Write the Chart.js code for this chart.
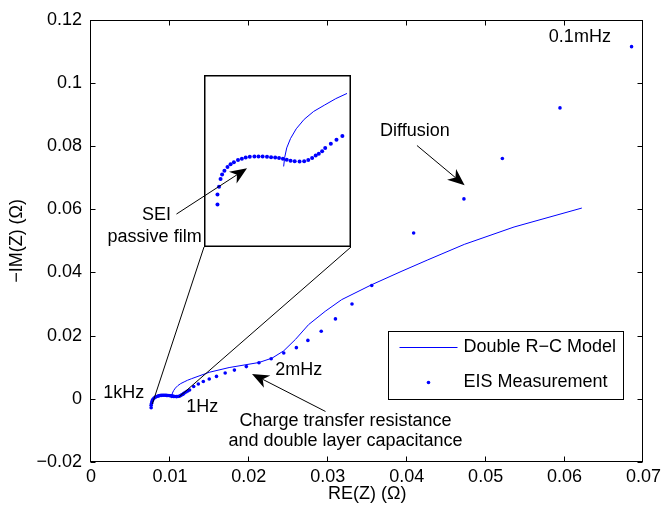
<!DOCTYPE html>
<html>
<head>
<meta charset="utf-8">
<script src="https://cdn.jsdelivr.net/npm/chart.js@4.4.1/dist/chart.umd.min.js"></script>
<style>
  html, body { margin: 0; padding: 0; background: #fff; }
  #wrap { position: relative; width: 665px; height: 511px; }
  #main { position: absolute; left: 0; top: 0; z-index: 1; }
  #insetBox { position: absolute; background: #fff; z-index: 0; }
</style>
</head>
<body>
<div id="wrap">
  <div id="insetBox"><canvas id="inset"></canvas></div>
  <canvas id="main" width="665" height="511"></canvas>
</div>
<script>
const measRe = [0.00762, 0.00762, 0.00768, 0.00774, 0.00780, 0.00789, 0.00801, 0.00813, 0.00826, 0.00842,
  0.00857, 0.00872, 0.00888, 0.00906, 0.00922, 0.00938, 0.00955, 0.00971, 0.00987, 0.01002,
  0.01017, 0.01032, 0.01047, 0.01063, 0.01082, 0.01100, 0.01116, 0.01131, 0.01145, 0.01157,
  0.01170, 0.01182, 0.01204, 0.01226, 0.01249,
  0.01301, 0.01360, 0.01423, 0.01498, 0.01590, 0.01700, 0.01817, 0.01968, 0.02128, 0.02283,
  0.02442, 0.02602, 0.02748, 0.02917, 0.03097, 0.03307, 0.03557, 0.04088, 0.04725, 0.05212,
  0.05942, 0.06849];
const measIm = [-0.00284, -0.00200, -0.00137, -0.00074, -0.00037, -0.00006, 0.00026, 0.00049, 0.00065, 0.00083,
  0.00093, 0.00104, 0.00109, 0.00112, 0.00112, 0.00112, 0.00109, 0.00106, 0.00104, 0.00099,
  0.00093, 0.00085, 0.00077, 0.00073, 0.00070, 0.00073, 0.00083, 0.00099, 0.00120, 0.00135,
  0.00156, 0.00183, 0.00216, 0.00250, 0.00281,
  0.0039, 0.0047, 0.0055, 0.0063, 0.0071, 0.0082, 0.0091, 0.0102, 0.0114, 0.0127,
  0.0145, 0.0162, 0.0185, 0.0214, 0.0253, 0.0300, 0.0359, 0.0525, 0.0633, 0.0761,
  0.0921, 0.1115];

// Double R-C model curve
const modelRe = [0.01020, 0.01024, 0.01032, 0.01047, 0.01069, 0.01100, 0.01137, 0.01180, 0.01223, 0.01271,
  0.01498, 0.01750, 0.02128, 0.02295, 0.02442, 0.02590, 0.02757, 0.02967, 0.03176, 0.03554,
  0.03928, 0.04268, 0.04730, 0.05360, 0.06219];
const modelIm = [0.00030, 0.00104, 0.00183, 0.00261, 0.00340, 0.00418, 0.00483, 0.00536, 0.00588, 0.00635,
  0.0084, 0.0099, 0.0115, 0.0129, 0.0152, 0.0188, 0.0235, 0.0277, 0.0314, 0.0361,
  0.0403, 0.0440, 0.0489, 0.0544, 0.0604];

const xTicks = [0, 0.01, 0.02, 0.03, 0.04, 0.05, 0.06, 0.07];
const yTicks = [-0.02, 0, 0.02, 0.04, 0.06, 0.08, 0.1, 0.12];

const seriesNames = ['Double R\u2212C Model', 'EIS Measurement'];

// text notes and arrows, placed in data units
const notes = [
  { text: '0.1mHz', x: 0.06194, y: 0.1144 },
  { text: 'Diffusion', x: 0.04104, y: 0.0849 },
  { text: 'SEI', x: 0.00830, y: 0.0582 },
  { text: 'passive film', x: 0.00806, y: 0.0513 },
  { text: '1kHz', x: 0.00415, y: 0.0017 },
  { text: '1Hz', x: 0.01410, y: -0.0027 },
  { text: '2mHz', x: 0.02631, y: 0.0092 },
  { text: 'Charge transfer resistance', x: 0.03225, y: -0.0071 },
  { text: 'and double layer capacitance', x: 0.03225, y: -0.0134 }
];
const arrows = [
  { from: [0.01083, 0.0585], to: [0.01977, 0.0730] },
  { from: [0.04130, 0.0802], to: [0.04734, 0.0676] },
  { from: [0.02971, -0.0040], to: [0.02040, 0.0079] }
];

// inset: zoom on the SEI semicircle
const insetRange = { x: [0.00725, 0.01267], y: [-0.0060, 0.0075] };
const insetBox = { left: 204, top: 75, width: 147, height: 172 };
const insetLinks = [[0.00777, -0.0016], [0.0112, 0.0007]];

const FONT = '"Liberation Sans", Arial, sans-serif';
const FS = 18;
const blue = '#0000ff';

const toPts = (xs, ys) => xs.map((x, i) => ({ x: x, y: ys[i] }));
const fmt = v => {
  const s = String(+v.toFixed(2));
  return v < 0 ? '\u2212' + s.slice(1) : s;
};

function datasets(r) {
  return [
    { label: seriesNames[0], data: toPts(modelRe, modelIm), showLine: true, borderColor: blue,
      borderWidth: 1, pointRadius: 0, tension: 0 },
    { label: seriesNames[1], data: toPts(measRe, measIm), showLine: false, pointRadius: r,
      pointBackgroundColor: blue, pointBorderWidth: 0, borderColor: blue }
  ];
}

function drawArrow(ctx, x1, y1, x2, y2) {
  const a = Math.atan2(y2 - y1, x2 - x1);
  const L = 17, W = 7, N = 5;
  const c = Math.cos(a), s = Math.sin(a);
  ctx.beginPath();
  ctx.moveTo(x1, y1);
  ctx.lineTo(x2 - (L - N) * c, y2 - (L - N) * s);
  ctx.stroke();
  ctx.beginPath();
  ctx.moveTo(x2, y2);
  ctx.lineTo(x2 - L * c - W * s, y2 - L * s + W * c);
  ctx.lineTo(x2 - (L - N) * c, y2 - (L - N) * s);
  ctx.lineTo(x2 - L * c + W * s, y2 - L * s - W * c);
  ctx.closePath();
  ctx.fill();
}

const decor = {
  id: 'decor',
  afterDraw(chart) {
    const { ctx, chartArea: a, scales: { x, y } } = chart;
    ctx.save();
    ctx.strokeStyle = '#000';
    ctx.fillStyle = '#000';
    ctx.lineWidth = 1;

    // lines from inset box to the zoomed region
    const bl = [insetBox.left, insetBox.top + insetBox.height];
    const br = [insetBox.left + insetBox.width, insetBox.top + insetBox.height];
    [[bl, insetLinks[0]], [br, insetLinks[1]]].forEach(([c, p]) => {
      ctx.beginPath();
      ctx.moveTo(c[0], c[1]);
      ctx.lineTo(x.getPixelForValue(p[0]), y.getPixelForValue(p[1]));
      ctx.stroke();
    });

    // frame with inward ticks on all sides
    const L = Math.round(a.left) - 0.5, R = Math.round(a.right) - 0.5;
    const T = Math.round(a.top) + 0.5, B = Math.round(a.bottom) - 0.5;
    ctx.strokeRect(L, T, R - L, B - T);
    ctx.beginPath();
    xTicks.forEach(v => {
      const px = Math.round(x.getPixelForValue(v)) - 0.5;
      ctx.moveTo(px, B); ctx.lineTo(px, B - 5);
      ctx.moveTo(px, T); ctx.lineTo(px, T + 5);
    });
    yTicks.forEach(v => {
      const py = Math.round(y.getPixelForValue(v)) + 0.5;
      ctx.moveTo(L, py); ctx.lineTo(L + 5, py);
      ctx.moveTo(R, py); ctx.lineTo(R - 5, py);
    });
    ctx.stroke();

    // notes
    ctx.font = FS + 'px ' + FONT;
    ctx.textAlign = 'center';
    ctx.textBaseline = 'middle';
    notes.forEach(n => ctx.fillText(n.text, x.getPixelForValue(n.x), y.getPixelForValue(n.y)));

    // arrows
    arrows.forEach(ar => drawArrow(ctx,
      x.getPixelForValue(ar.from[0]), y.getPixelForValue(ar.from[1]),
      x.getPixelForValue(ar.to[0]), y.getPixelForValue(ar.to[1])));

    // legend
    const lw = 235, lh = 68;
    const lx = Math.round(a.right - 20 - lw) + 0.5, ly = Math.round(a.bottom - 63 - lh) + 0.5;
    ctx.fillStyle = '#fff';
    ctx.fillRect(lx, ly, lw, lh);
    ctx.strokeRect(lx, ly, lw, lh);
    ctx.strokeStyle = blue;
    ctx.beginPath();
    ctx.moveTo(lx + 11, ly + 16); ctx.lineTo(lx + 69, ly + 16);
    ctx.stroke();
    ctx.fillStyle = blue;
    ctx.beginPath();
    ctx.arc(lx + 40, ly + 51, 1.8, 0, Math.PI * 2);
    ctx.fill();
    ctx.fillStyle = '#000';
    ctx.textAlign = 'left';
    ctx.fillText(seriesNames[0], lx + 75, ly + 16);
    ctx.fillText(seriesNames[1], lx + 75, ly + 51);
    ctx.restore();
  }
};

const axisFont = { family: FONT, size: FS };

new Chart(document.getElementById('main'), {
  type: 'scatter',
  data: { datasets: datasets(1.8) },
  options: {
    responsive: false,
    animation: false,
    events: [],
    layout: { padding: { top: 16, right: 18, left: 0, bottom: 0 } },
    plugins: { legend: { display: false }, tooltip: { enabled: false } },
    scales: {
      x: {
        type: 'linear', min: 0, max: 0.07,
        grid: { display: false, drawTicks: false },
        border: { display: false },
        afterBuildTicks: s => { s.ticks = xTicks.map(v => ({ value: v })); },
        afterFit: s => { s.height = 49; },
        ticks: { padding: 4, color: '#000', font: axisFont, maxRotation: 0, autoSkip: false, callback: v => fmt(v) },
        title: { display: true, text: 'RE(Z) (\u03A9)', color: '#000', font: axisFont, padding: { top: 0, bottom: 6 } }
      },
      y: {
        type: 'linear', min: -0.02, max: 0.12,
        grid: { display: false, drawTicks: false },
        border: { display: false },
        afterBuildTicks: s => { s.ticks = yTicks.map(v => ({ value: v })); },
        afterFit: s => { s.width = 91; },
        ticks: { padding: 9, color: '#000', font: axisFont, autoSkip: false, callback: v => fmt(v) },
        title: { display: true, text: '\u2212IM(Z) (\u03A9)', color: '#000', font: axisFont, padding: { top: 6, bottom: 0 } }
      }
    }
  },
  plugins: [decor]
});

// inset chart
const box = document.getElementById('insetBox');
box.style.left = insetBox.left + 'px';
box.style.top = insetBox.top + 'px';
box.style.width = insetBox.width + 'px';
box.style.height = insetBox.height + 'px';
const ic = document.getElementById('inset');
ic.width = insetBox.width;
ic.height = insetBox.height;

const insetFrame = {
  id: 'insetFrame',
  afterDraw(chart) {
    const { ctx, width, height } = chart;
    ctx.save();
    ctx.strokeStyle = '#000';
    ctx.lineWidth = 1.5;
    ctx.strokeRect(0.75, 0.75, width - 1.5, height - 1.5);
    ctx.restore();
  }
};

new Chart(ic, {
  type: 'scatter',
  data: { datasets: datasets(2) },
  options: {
    responsive: false,
    animation: false,
    events: [],
    layout: { padding: 0 },
    plugins: { legend: { display: false }, tooltip: { enabled: false } },
    scales: {
      x: { type: 'linear', display: false, min: insetRange.x[0], max: insetRange.x[1] },
      y: { type: 'linear', display: false, min: insetRange.y[0], max: insetRange.y[1] }
    }
  },
  plugins: [insetFrame]
});
</script>
</body>
</html>
